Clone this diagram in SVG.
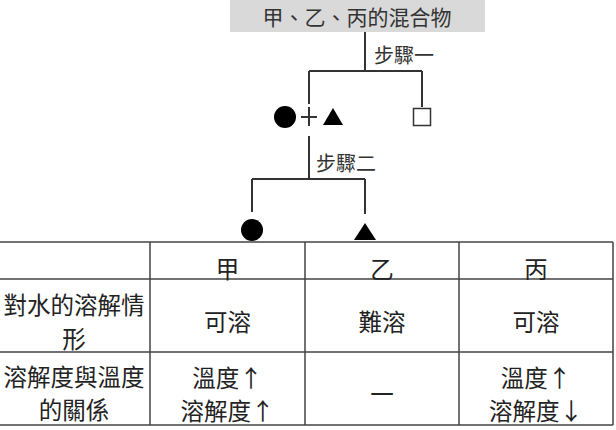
<svg xmlns="http://www.w3.org/2000/svg" width="616" height="430" viewBox="0 0 616 430">
<style>
text{font-family:"Noto Sans CJK TC","Noto Sans CJK SC",sans-serif;fill:#222;text-anchor:middle}
.t{font-size:23.5px}
.lbl{font-size:20px;text-anchor:start;fill:#333}
.ln{stroke:#333;stroke-width:2;fill:none}
.grid{stroke:#444;stroke-width:1.5;fill:none}
</style>
<rect width="616" height="430" fill="#fff"/>
<g id="mixture">
<rect x="230" y="0" width="255" height="32" fill="#d9d9d9"/>
<text x="357" y="25" style="font-size:21px;fill:#333">甲、乙、丙的混合物</text>
</g>
<g id="connectors">
<path class="ln" d="M365 32V71M309 71H422M309 71V104M422 71V107M309 136V179M252 179H365M252 179V212M365 179V214"/>
<text class="lbl" x="374" y="63">步驟一</text>
<text class="lbl" x="316" y="171">步驟二</text>
</g>
<g id="mix-circle-triangle">
<circle cx="285" cy="117" r="11" fill="#000"/>
<path class="ln" d="M301 117H317M309 107V126" stroke-width="1.5"/>
<polygon points="323,125 333,108 343,125" fill="#000"/>
</g>
<g id="square">
<rect x="413.5" y="108.5" width="17" height="17" fill="#fff" stroke="#333" stroke-width="1.5"/>
</g>
<g id="circle-node">
<circle cx="252" cy="230" r="11" fill="#000"/>
</g>
<g id="triangle-node">
<polygon points="354,240 365,223 376,240" fill="#000"/>
</g>
<g id="table">
<path class="grid" d="M0 242H613M0 279H613M0 352H613M0 425H613M150 242V425M305 242V425M459 242V425M613 242V425"/>
<text class="t" x="227.5" y="278">甲</text>
<text class="t" x="382" y="278">乙</text>
<text class="t" x="536" y="278">丙</text>
<text class="t" x="74" y="314">對水的溶解情</text>
<text class="t" x="74" y="348">形</text>
<text class="t" x="227.5" y="331">可溶</text>
<text class="t" x="382" y="331">難溶</text>
<text class="t" x="536" y="331">可溶</text>
<text class="t" x="74" y="386">溶解度與溫度</text>
<text class="t" x="74" y="419">的關係</text>
<text class="t" x="227.5" y="387">溫度↑</text>
<text class="t" x="227.5" y="420">溶解度↑</text>
<text class="t" x="382" y="403">一</text>
<text class="t" x="536" y="387">溫度↑</text>
<text class="t" x="536" y="420">溶解度↓</text>
</g>
</svg>
